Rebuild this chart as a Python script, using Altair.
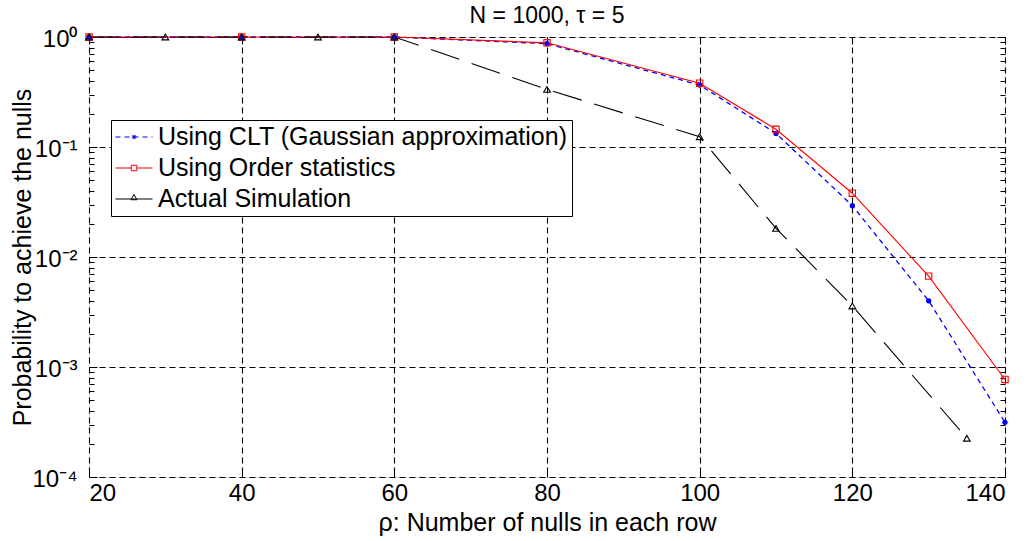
import altair as alt
import pandas as pd

# ---- data ----
clt_x = [20, 40, 60, 80, 100, 110, 120, 130, 140]
clt_y = [1.0, 1.0, 1.0, 0.87, 0.366, 0.133, 0.0293, 0.0040, 3.14e-4]

ord_x = [20, 40, 60, 80, 100, 110, 120, 130, 140]
ord_y = [1.0, 1.0, 1.0, 0.885, 0.38, 0.145, 0.038, 0.0067, 7.7e-4]

sim_x = [20, 30, 40, 50, 60, 80, 100, 110, 120, 135]
sim_y = [1.0, 1.0, 1.0, 1.0, 1.0, 0.334, 0.124, 0.0182, 0.00359, 2.25e-4]

series_names = ["Using CLT (Gaussian approximation)", "Using Order statistics", "Actual Simulation"]
series_colors = ["#0000ff", "#ff0000", "#000000"]

x_ticks = [20, 40, 60, 80, 100, 120, 140]
y_major = [1e-4, 1e-3, 1e-2, 1e-1, 1.0]
y_major_labels = ["10⁻⁴", "10⁻³", "10⁻²", "10⁻¹", "10⁰"]
y_minor = [m * 10.0 ** e for e in (-4, -3, -2, -1) for m in range(2, 10)]

title_text = "N = 1000, τ = 5"
x_title = "ρ: Number of nulls in each row"
y_title = "Probability to achieve the nulls"

# legend symbols (line + marker), drawn as custom paths
legend_paths = [
    "M-1,0H-0.73M-0.514,0H-0.243M-0.027,0H0.243M0.459,0H0.73M0.946,0H1"
    "M-0.12,0H0.12M0,-0.12V0.12M-0.09,-0.09L0.09,0.09M-0.09,0.09L0.09,-0.09",
    "M-1,0H-0.15M0.15,0H1M-0.15,-0.15H0.15V0.15H-0.15Z",
    "M-1,0H1M-0.16,0.04L0,-0.24L0.16,0.04Z",
]

FONT = "Liberation Sans"
W, H = 916, 440

df_clt = pd.DataFrame({"x": clt_x, "y": clt_y})
df_ord = pd.DataFrame({"x": ord_x, "y": ord_y})
df_sim = pd.DataFrame({"x": sim_x, "y": sim_y})
df_leg = pd.DataFrame({"series": series_names})

xscale = alt.Scale(domain=[20, 140], nice=False, zero=False)
yscale = alt.Scale(type="log", domain=[1e-4, 1], nice=False)

label_expr = (
    f"datum.value > 0.5 ? '{y_major_labels[4]}' : datum.value > 0.05 ? '{y_major_labels[3]}' : "
    f"datum.value > 0.005 ? '{y_major_labels[2]}' : datum.value > 0.0005 ? '{y_major_labels[1]}' : '{y_major_labels[0]}'"
)

main_x = alt.Axis(
    values=x_ticks, format="d", labelFont=FONT, labelFontSize=24, labelColor="black",
    labelPadding=4, labelBaseline="top", ticks=False, domain=False,
    grid=True, gridColor="black", gridDash=[6, 4], gridWidth=1.1, gridOpacity=1,
    title=x_title, titleFont=FONT, titleFontSize=25, titleFontWeight="normal", titleColor="black",
    titleX=W / 2, titleY=53, titleAlign="center", titleBaseline="alphabetic",
)
main_y = alt.Axis(
    values=y_major, labelExpr=label_expr, labelFont=FONT, labelFontSize=24, labelColor="black",
    labelPadding=12, labelOffset=2, ticks=False, domain=False,
    grid=True, gridColor="black", gridDash=[6, 4], gridWidth=1.1, gridOpacity=1,
    title=y_title, titleFont=FONT, titleFontSize=25, titleFontWeight="normal", titleColor="black",
    titleX=-59, titleY=H / 2, titleAngle=270, titleAlign="center", titleBaseline="alphabetic",
)


def tick_axis(orient, offset, values, size):
    return alt.Axis(
        orient=orient, offset=offset, values=values, labels=False, domain=False, grid=False,
        ticks=True, tickSize=size, tickColor="black", tickWidth=1, title=None,
    )


x_in_bottom = tick_axis("top", -H, x_ticks, 7)
x_in_top = tick_axis("bottom", -H, x_ticks, 7)
y_in_left_major = tick_axis("right", -W, y_major, 8)
y_in_right_major = tick_axis("left", -W, y_major, 8)
y_in_left_minor = tick_axis("right", -W, y_minor, 5)
y_in_right_minor = tick_axis("left", -W, y_minor, 5)


def enc(chart, xaxis, yaxis):
    return chart.encode(
        x=alt.X("x:Q", scale=xscale, axis=xaxis),
        y=alt.Y("y:Q", scale=yscale, axis=yaxis),
    )


line_clt = enc(alt.Chart(df_clt).mark_line(color=series_colors[0], strokeWidth=1.3, strokeDash=[5, 4]),
               main_x, main_y)
line_ord = enc(alt.Chart(df_ord).mark_line(color=series_colors[1], strokeWidth=1.1),
               x_in_bottom, y_in_left_major)
line_sim = enc(alt.Chart(df_sim).mark_line(color=series_colors[2], strokeWidth=1.1, strokeDash=[30, 13]),
               x_in_top, y_in_right_major)

pts_clt = enc(alt.Chart(df_clt).mark_point(shape="circle", filled=True, size=28, opacity=1,
                                           color=series_colors[0]),
              None, y_in_left_minor)
pts_ord = enc(alt.Chart(df_ord).mark_point(shape="square", filled=False, size=40, opacity=1,
                                           strokeWidth=1.1, color=series_colors[1]),
              None, y_in_right_minor)
pts_sim = enc(alt.Chart(df_sim).mark_point(shape="triangle-up", filled=False, size=45, opacity=1,
                                           strokeWidth=1.1, color=series_colors[2]),
              None, None)

legend = alt.Legend(
    title=None, orient="none", legendX=22, legendY=83, direction="vertical",
    labelFont=FONT, labelFontSize=25, labelColor="black", labelLimit=1000, labelBaseline="middle",
    labelOffset=5, symbolSize=1369, symbolStrokeWidth=1, symbolOpacity=1,
    clipHeight=26, rowPadding=5, padding=4,
    strokeColor="black", fillColor="white",
)

carrier = alt.Chart(df_leg).transform_filter("false").mark_point(
    filled=False, size=1369, strokeWidth=1, opacity=1
).encode(
    color=alt.Color("series:N", scale=alt.Scale(domain=series_names, range=series_colors), legend=legend),
    shape=alt.Shape("series:N", scale=alt.Scale(domain=series_names, range=legend_paths), legend=legend),
)

chart = alt.layer(
    line_clt, line_ord, line_sim, pts_clt, pts_ord, pts_sim, carrier
).resolve_axis(
    x="independent", y="independent"
).resolve_scale(
    x="shared", y="shared"
).properties(
    width=W, height=H,
    title=alt.TitleParams(title_text, font=FONT, fontSize=23, fontWeight="normal", color="black",
                          frame="group", anchor="middle", baseline="alphabetic", offset=1, dy=20),
    autosize=alt.AutoSizeParams(type="none"),
    padding={"left": 89, "top": 37, "right": 30, "bottom": 64},
).configure_view(
    stroke="black", strokeWidth=1.2
).configure(background="white")

chart.save("out.html", embed_options={"renderer": "svg", "actions": False})
